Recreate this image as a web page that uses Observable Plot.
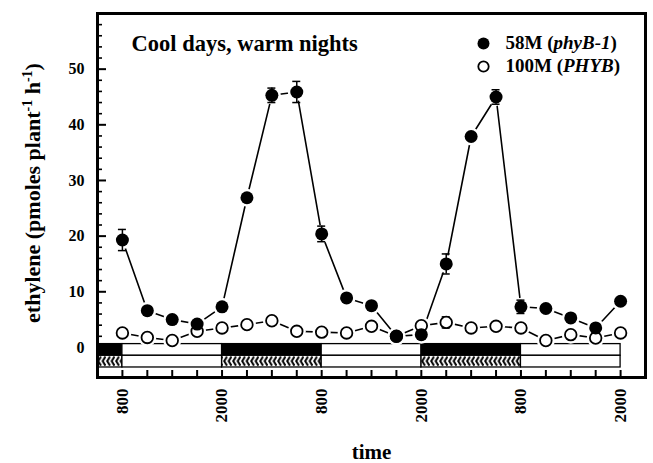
<!DOCTYPE html>
<html><head><meta charset="utf-8">
<script src="https://cdn.jsdelivr.net/npm/d3@7"></script>
<script src="https://cdn.jsdelivr.net/npm/@observablehq/plot@0.6"></script>
<style>body{margin:0;background:#fff;}</style>
</head><body><div id="chart"></div>
<script>
// ---- data (hours after 800 on day 1, 3-h sampling) ----
const hours = [0,3,6,9,12,15,18,21,24,27,30,33,36,39,42,45,48,51,54,57,60];
const mutant58M    = [19.3,6.6,5.0,4.2,7.3,26.9,45.3,45.9,20.4,8.9,7.5,2.0,2.3,15.0,37.9,45.0,7.3,7.0,5.3,3.5,8.3];
const mutant58MErr = [1.9,0,0,0,0,0,1.3,1.9,1.4,0,0,0,0,1.8,0,1.3,1.2,0,0,0,0];
const wild100M     = [2.6,1.8,1.25,2.9,3.5,4.1,4.8,2.9,2.75,2.6,3.8,2.0,3.9,4.5,3.5,3.8,3.5,1.25,2.3,1.7,2.6];
const wild100MErr  = [0,0,0,0,0,0,0,0,0,0,0,0,0,1.0,0,0,0,0,0,0,0];
const tickHours  = [0,3,6,9,12,15,18,21,24,27,30,33,36,39,42,45,48,51,54,57,60];
const labelHours = [0,12,24,36,48,60];
const tickLabels = ["800","2000","800","2000","800","2000"];
const periodStart = [-3,0,12,24,36,48];
const periodEnd   = [0,12,24,36,48,60];
const periodPhase = ["dark","light","dark","light","dark","light"];
const yMajor = [0,10,20,30,40,50];
const yMinor = [2,4,6,8,12,14,16,18,22,24,26,28,32,34,36,38,42,44,46,48,52,54,56,58];
const seriesNames = ["58M (phyB-1)","100M (PHYB)"];
const titleText = "Cool days, warm nights";
const yLabel = "ethylene (pmoles plant-1 h-1)";
const xLabel = "time";

// ---- layout ----
const W = 653, H = 463, mL = 97, mR = 8, mT = 13, mB = 86;
const frameW = W - mL - mR, frameH = H - mT - mB;
const BAR_TOP = 0.6, BAR_MID = -1.5, BAR_BOT = -3.6;

const rows = hours.map((t, i) => ({t, m: mutant58M[i], me: mutant58MErr[i], w: wild100M[i], we: wild100MErr[i]}));
const periods = periodStart.map((s, i) => ({s, e: periodEnd[i], dark: periodPhase[i] === "dark"}));
const mErr = rows.filter(d => d.me > 0), wErr = rows.filter(d => d.we > 0);

const chart = Plot.plot({
  width: W, height: H, marginLeft: mL, marginRight: mR, marginTop: mT, marginBottom: mB,
  x: {domain: [-3, 63], axis: null},
  y: {domain: [-5.4, 60], axis: null},
  style: {fontFamily: "'Liberation Serif','Times New Roman',serif", fontWeight: "bold", background: "white", color: "black"},
  marks: [
    Plot.rect(periods, {filter: d => d.dark, x1: "s", x2: "e", y1: BAR_MID, y2: BAR_TOP, fill: "black", stroke: "black", strokeWidth: 1.3}),
    Plot.rect(periods, {filter: d => !d.dark, x1: "s", x2: "e", y1: BAR_MID, y2: BAR_TOP, fill: "white", stroke: "black", strokeWidth: 1.3}),
    Plot.rect(periods, {filter: d => d.dark, x1: "s", x2: "e", y1: BAR_BOT, y2: BAR_MID, fill: "url(#chev)", stroke: "black", strokeWidth: 1.3}),
    Plot.rect(periods, {filter: d => !d.dark, x1: "s", x2: "e", y1: BAR_BOT, y2: BAR_MID, fill: "white", stroke: "black", strokeWidth: 1.3}),
    Plot.ruleX(tickHours, {x: d => d, insetTop: frameH - 7, stroke: "black", strokeWidth: 2}),
    Plot.ruleY(yMajor, {y: d => d, insetRight: frameW - 9, stroke: "black", strokeWidth: 2}),
    Plot.ruleY(yMinor, {y: d => d, insetRight: frameW - 5, stroke: "black", strokeWidth: 1.6}),
    Plot.frame({stroke: "black", strokeWidth: 3}),
    Plot.line(rows, {x: "t", y: "m", stroke: "black", strokeWidth: 1.6}),
    Plot.line(rows, {x: "t", y: "w", stroke: "black", strokeWidth: 1.6}),
    Plot.dot(rows, {x: "t", y: "w", r: 9, fill: "white"}),
    Plot.dot(rows, {x: "t", y: "m", r: 9, fill: "white"}),
    Plot.ruleX(mErr, {x: "t", y1: d => d.m - d.me, y2: d => d.m + d.me, stroke: "black", strokeWidth: 1.5}),
    Plot.ruleY(mErr, {x1: "t", x2: "t", y: d => d.m + d.me, insetLeft: -4, insetRight: -4, stroke: "black", strokeWidth: 1.5}),
    Plot.ruleY(mErr, {x1: "t", x2: "t", y: d => d.m - d.me, insetLeft: -4, insetRight: -4, stroke: "black", strokeWidth: 1.5}),
    Plot.ruleX(wErr, {x: "t", y1: d => d.w - d.we, y2: d => d.w + d.we, stroke: "black", strokeWidth: 1.5}),
    Plot.ruleY(wErr, {x1: "t", x2: "t", y: d => d.w + d.we, insetLeft: -4, insetRight: -4, stroke: "black", strokeWidth: 1.5}),
    Plot.ruleY(wErr, {x1: "t", x2: "t", y: d => d.w - d.we, insetLeft: -4, insetRight: -4, stroke: "black", strokeWidth: 1.5}),
    Plot.dot(rows, {x: "t", y: "w", r: 5.8, fill: "white", stroke: "black", strokeWidth: 1.8}),
    Plot.dot(rows, {x: "t", y: "m", r: 6.5, fill: "black"}),
    // tick labels
    Plot.text(yMajor, {y: d => d, text: d => String(d), frameAnchor: "left", textAnchor: "end", dx: -13, fontSize: 16, fill: "black"}),
    Plot.text(labelHours, {x: d => d, text: (d, i) => tickLabels[i], frameAnchor: "bottom", rotate: -90, textAnchor: "end", lineAnchor: "middle", dy: 11, fontSize: 17, fill: "black"}),
    // title & legend
    Plot.text([titleText], {frameAnchor: "top-left", textAnchor: "start", lineAnchor: "bottom", dx: 34, dy: 37, fontSize: 22.5, fill: "black"}),
    Plot.dot([seriesNames[0]], {frameAnchor: "top-left", dx: 386, dy: 30, r: 6, fill: "black"}),
    Plot.dot([seriesNames[1]], {frameAnchor: "top-left", dx: 386, dy: 53, r: 5.2, fill: "white", stroke: "black", strokeWidth: 1.8}),
    Plot.text([seriesNames[0]], {frameAnchor: "top-left", textAnchor: "start", lineAnchor: "bottom", dx: 408, dy: 35, fontSize: 19, fill: "black"}),
    Plot.text([seriesNames[1]], {frameAnchor: "top-left", textAnchor: "start", lineAnchor: "bottom", dx: 408, dy: 58, fontSize: 19, fill: "black"}),
    // axis titles
    Plot.text([yLabel], {frameAnchor: "left", rotate: -90, textAnchor: "middle", lineAnchor: "bottom", dx: -57.5, dy: -2.5, fontSize: 22, fill: "black"}),
    Plot.text([xLabel], {frameAnchor: "bottom", textAnchor: "middle", lineAnchor: "bottom", dy: 81, fontSize: 21, fill: "black"})
  ]
});

// hatch pattern for warm-night bar
const svg = d3.select(chart);
const yS = chart.scale("y");
const pTop = yS.apply(BAR_MID), pBot = yS.apply(BAR_BOT), ph = pBot - pTop, pw = 4.5;
const pat = svg.insert("defs", ":first-child").append("pattern")
  .attr("id", "chev").attr("patternUnits", "userSpaceOnUse")
  .attr("x", mL).attr("y", pTop).attr("width", pw).attr("height", ph);
pat.append("rect").attr("width", pw).attr("height", ph).attr("fill", "white");
pat.append("path").attr("d", `M4,1.3L1.2,${ph / 2}L4,${ph - 1.3}`).attr("fill", "none").attr("stroke", "black").attr("stroke-width", 2);

// rich text (italics, superscripts)
function rich(node, parts) {
  const s = d3.select(node);
  s.text(null);
  for (const p of parts) {
    const ts = s.append("tspan").text(p.t);
    if (p.italic) ts.attr("font-style", "italic");
    if (p.size) ts.attr("font-size", p.size);
    if (p.dy) ts.attr("dy", p.dy);
  }
}
svg.selectAll("text").each(function () {
  const t = this.textContent;
  if (t === seriesNames[0]) rich(this, [{t: "58M ("}, {t: "phyB-1", italic: true}, {t: ")"}]);
  else if (t === seriesNames[1]) rich(this, [{t: "100M ("}, {t: "PHYB", italic: true}, {t: ")"}]);
  else if (t === yLabel) rich(this, [{t: "ethylene (pmoles plant"}, {t: "-1", size: 14, dy: -8}, {t: " h", dy: 8}, {t: "-1", size: 14, dy: -8}, {t: ")", dy: 8}]);
});

document.getElementById("chart").appendChild(chart);
</script>
</body></html>
